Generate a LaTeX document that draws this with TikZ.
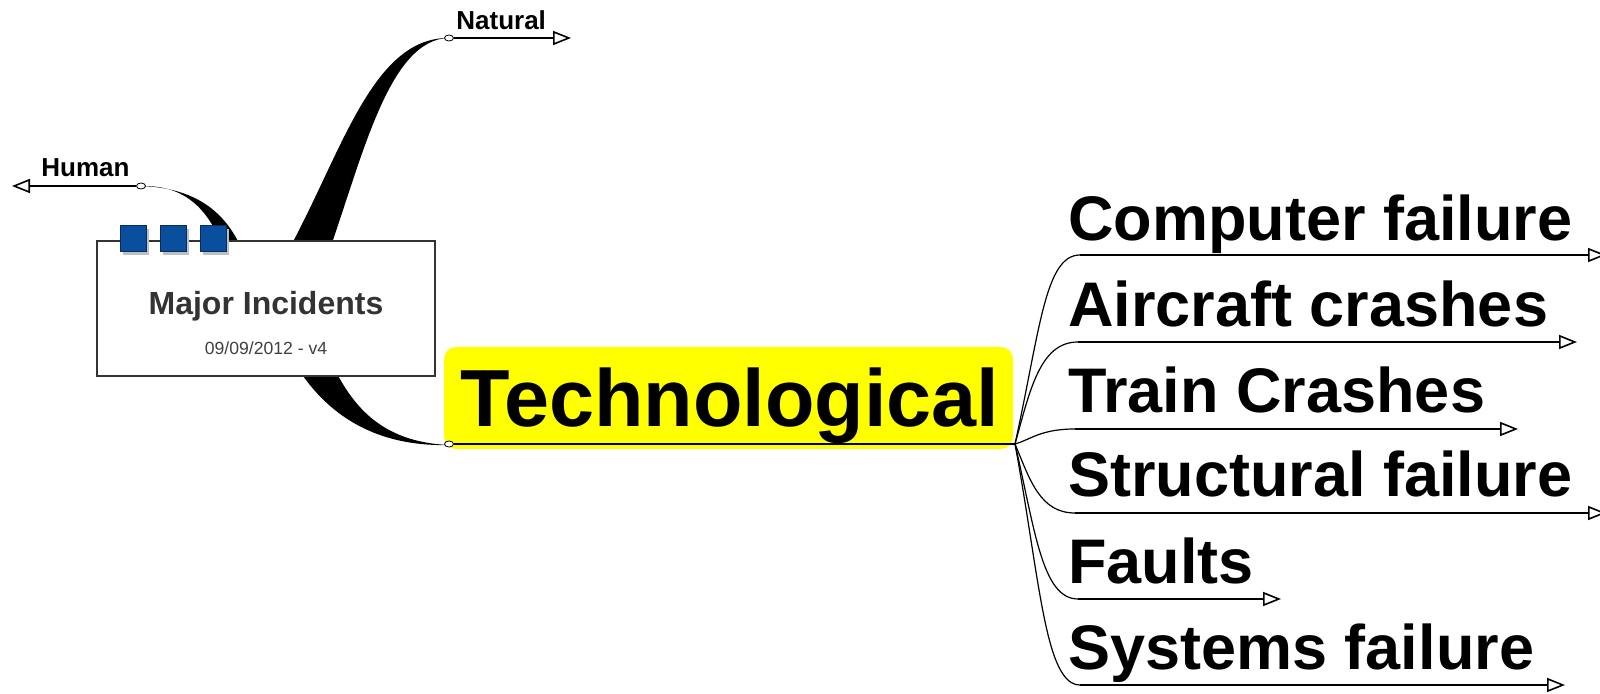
\documentclass[tikz,border=0pt]{standalone}
\usepackage{fontspec}
\setmainfont{Liberation Sans}
\usetikzlibrary{arrows.meta,shapes.geometric}
\definecolor{sqblue}{RGB}{10,78,158}
\definecolor{hilite}{RGB}{255,255,0}
\begin{document}
\begin{tikzpicture}[x=0.5pt,y=-0.5pt,
  knob/.style={ellipse,draw=black,fill=white,line width=0.4pt,minimum width=4.5pt,minimum height=3pt,inner sep=0pt},
  leaf/.style={line width=1pt,-{Triangle[open,length=9pt,width=7pt,line width=0.8pt]}},
  twig/.style={line width=0.6pt},
  bigtext/.style={font=\bfseries\fontsize{31.5}{36}\selectfont,anchor=base west,inner sep=0pt},
  smalltext/.style={font=\bfseries\fontsize{13}{15}\selectfont,anchor=base west,inner sep=0pt},
  sqbox/.style={draw=sqblue!60!black,fill=sqblue,minimum size=13pt,inner sep=0pt,line width=0.5pt},
  sqshadow/.style={fill=black!25,minimum size=13pt,inner sep=0pt},
]
\useasboundingbox (0,0) rectangle (1600,694);
\clip (0,0) rectangle (1600,694);

% tapered main connectors
\fill[black] (283,260) .. controls (340,160) and (370,37) .. (449,38)
   .. controls (388,39) and (362,160) .. (326,260) -- cycle;
\fill[black] (228,260) .. controls (212,214) and (190,185) .. (141,186)
   .. controls (198,188) and (230,214) .. (246,260) -- cycle;
\fill[black] (290,355) .. controls (320,410) and (370,447) .. (449,445)
   .. controls (380,442) and (350,405) .. (328,355) -- cycle;

% central topic
\node[draw=black!80,line width=0.6pt,fill=white,minimum width=169pt,minimum height=67.5pt,inner sep=0pt] (root) at (266,308.5) {};
\node[font=\bfseries\fontsize{16}{19}\selectfont,text=black!80,anchor=base,inner sep=0pt] (title) at (266,315) {Major Incidents};
\node[font=\fontsize{8.8}{10}\selectfont,text=black!75,anchor=base,inner sep=0pt] (date) at (266,355) {09/09/2012 - v4};

\node[sqshadow] (sh1) at (136,242) {};
\node[sqshadow] (sh2) at (176,242) {};
\node[sqshadow] (sh3) at (216,242) {};
\node[sqbox] (sq1) at (133,239) {};
\node[sqbox] (sq2) at (173,239) {};
\node[sqbox] (sq3) at (213,239) {};

% Natural
\node[knob] (natk) at (449,38) {};
\coordinate (natt) at (571,38);
\draw[leaf] (natk) -- (natt);
\node[smalltext] (natl) at (456,30) {Natural};

% Human
\node[knob] (humk) at (141,186) {};
\coordinate (humt) at (12,186);
\draw[leaf] (humk) -- (humt);
\node[smalltext] (huml) at (41,177) {Human};

% Technological
\node[fill=hilite,rounded corners=6pt,minimum width=284.5pt,minimum height=51pt,inner sep=0pt] (techbox) at (728.5,398) {};
\node[font=\bfseries\fontsize{40.5}{46}\selectfont,anchor=base,inner sep=0pt] (techl) at (730,427) {Technological};
\node[knob] (techk) at (449,444) {};
\coordinate (hub) at (1015,444);
\draw[line width=1pt] (techk) -- (hub);

% children
\coordinate (c1a) at (1080,255); \coordinate (c1b) at (1606,255);
\coordinate (c2a) at (1078,342); \coordinate (c2b) at (1577,342);
\coordinate (c3a) at (1075,429); \coordinate (c3b) at (1518,429);
\coordinate (c4a) at (1075,513); \coordinate (c4b) at (1606,513);
\coordinate (c5a) at (1078,599); \coordinate (c5b) at (1281,599);
\coordinate (c6a) at (1080,685); \coordinate (c6b) at (1565,685);

\draw[twig] (hub) .. controls (1040,330) and (1045,255) .. (c1a);
\draw[twig] (hub) .. controls (1030,390) and (1040,342) .. (c2a);
\draw[twig] (hub) .. controls (1030,440) and (1040,429) .. (c3a);
\draw[twig] (hub) .. controls (1030,480) and (1040,513) .. (c4a);
\draw[twig] (hub) .. controls (1035,530) and (1042,599) .. (c5a);
\draw[twig] (hub) .. controls (1040,580) and (1045,685) .. (c6a);

\draw[leaf] (c1a) -- (c1b);
\draw[leaf] (c2a) -- (c2b);
\draw[leaf] (c3a) -- (c3b);
\draw[leaf] (c4a) -- (c4b);
\draw[leaf] (c5a) -- (c5b);
\draw[leaf] (c6a) -- (c6b);

\node[bigtext] (c1) at (1068,241) {Computer failure};
\node[bigtext] (c2) at (1068,327) {Aircraft crashes};
\node[bigtext] (c3) at (1068,413) {Train Crashes};
\node[bigtext] (c4) at (1068,497) {Structural failure};
\node[bigtext] (c5) at (1068,583) {Faults};
\node[bigtext] (c6) at (1068,669) {Systems failure};
\end{tikzpicture}
\end{document}
